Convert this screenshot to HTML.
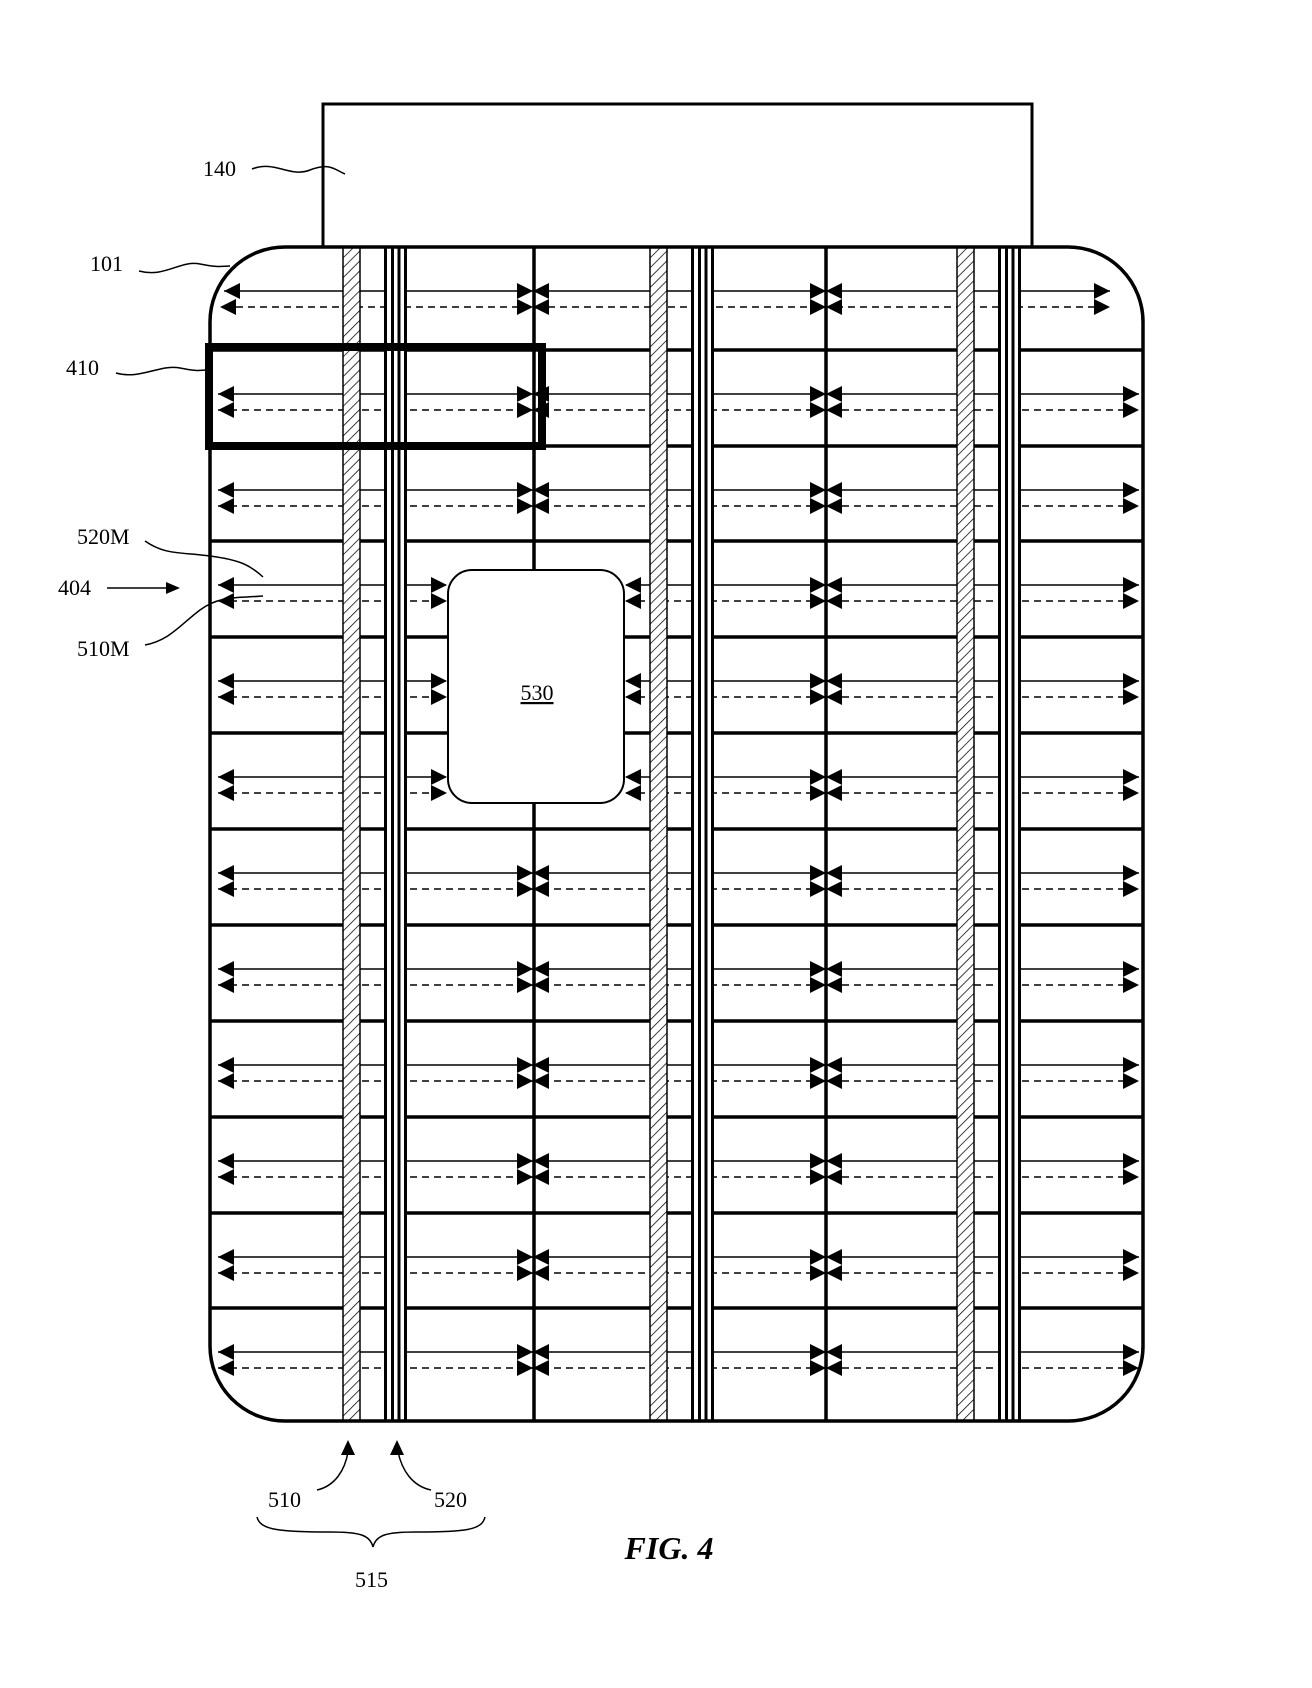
<!DOCTYPE html>
<html><head><meta charset="utf-8"><style>
html,body{margin:0;padding:0;background:#fff;}
svg{display:block;}
text{font-family:"Liberation Serif",serif;fill:#000;}
</style></head><body>
<svg width="1312" height="1688" viewBox="0 0 1312 1688" xmlns="http://www.w3.org/2000/svg">
<defs>
<pattern id="h" patternUnits="userSpaceOnUse" width="7" height="7" patternTransform="rotate(45)">
<rect width="7" height="7" fill="#fff"/><line x1="0" y1="0" x2="0" y2="7" stroke="#000" stroke-width="1.5"/>
</pattern>
<clipPath id="c"><rect x="210" y="247" width="933" height="1174" rx="75" ry="75"/></clipPath>
<g id="hn">
<polygon points="218,0 234,-8 234,8"/>
<polygon points="533,0 517,-8 517,8"/><polygon points="533,0 549,-8 549,8"/>
<polygon points="826,0 810,-8 810,8"/><polygon points="826,0 842,-8 842,8"/>
<polygon points="1139,0 1123,-8 1123,8"/>
</g>
<g id="rn">
<line x1="218" y1="0" x2="1139" y2="0" stroke="#000" stroke-width="1.5"/>
<line x1="218" y1="16" x2="1139" y2="16" stroke="#000" stroke-width="1.5" stroke-dasharray="7,5"/>
<use href="#hn"/><use href="#hn" y="16"/>
</g>
<g id="hb">
<polygon points="218,0 234,-8 234,8"/>
<polygon points="447,0 431,-8 431,8"/>
<polygon points="625,0 641,-8 641,8"/>
<polygon points="826,0 810,-8 810,8"/><polygon points="826,0 842,-8 842,8"/>
<polygon points="1139,0 1123,-8 1123,8"/>
</g>
<g id="rb">
<line x1="218" y1="0" x2="446" y2="0" stroke="#000" stroke-width="1.5"/>
<line x1="626" y1="0" x2="1139" y2="0" stroke="#000" stroke-width="1.5"/>
<line x1="218" y1="16" x2="446" y2="16" stroke="#000" stroke-width="1.5" stroke-dasharray="7,5"/>
<line x1="626" y1="16" x2="1139" y2="16" stroke="#000" stroke-width="1.5" stroke-dasharray="7,5"/>
<use href="#hb"/><use href="#hb" y="16"/>
</g>
<g id="strip">
<rect x="0" y="245" width="17" height="1180" fill="url(#h)" stroke="#000" stroke-width="1.5"/>
<rect x="41" y="245" width="23" height="1180" fill="#fff"/>
<line x1="42.5" y1="245" x2="42.5" y2="1425" stroke="#000" stroke-width="3"/>
<line x1="49.5" y1="245" x2="49.5" y2="1425" stroke="#000" stroke-width="3"/>
<line x1="56" y1="245" x2="56" y2="1425" stroke="#000" stroke-width="3"/>
<line x1="62.5" y1="245" x2="62.5" y2="1425" stroke="#000" stroke-width="3"/>
</g>
</defs>
<rect x="323" y="104" width="709" height="143" fill="#fff" stroke="#000" stroke-width="3"/>
<g clip-path="url(#c)">
<g stroke="#000" stroke-width="3.5">
<line x1="534" y1="247" x2="534" y2="1421"/>
<line x1="826" y1="247" x2="826" y2="1421"/>
<line x1="205" y1="350" x2="1150" y2="350"/>
<line x1="205" y1="446" x2="1150" y2="446"/>
<line x1="205" y1="541" x2="1150" y2="541"/>
<line x1="205" y1="637" x2="1150" y2="637"/>
<line x1="205" y1="733" x2="1150" y2="733"/>
<line x1="205" y1="829" x2="1150" y2="829"/>
<line x1="205" y1="925" x2="1150" y2="925"/>
<line x1="205" y1="1021" x2="1150" y2="1021"/>
<line x1="205" y1="1117" x2="1150" y2="1117"/>
<line x1="205" y1="1213" x2="1150" y2="1213"/>
<line x1="205" y1="1308" x2="1150" y2="1308"/>
</g>
<g>
<line x1="224" y1="291" x2="1110" y2="291" stroke="#000" stroke-width="1.5"/>
<line x1="224" y1="307" x2="1110" y2="307" stroke="#000" stroke-width="1.5" stroke-dasharray="7,5"/>
<polygon points="224,291 240,283 240,299"/><polygon points="220,307 236,299 236,315"/>
<polygon points="533,291 517,283 517,299"/><polygon points="533,291 549,283 549,299"/>
<polygon points="533,307 517,299 517,315"/><polygon points="533,307 549,299 549,315"/>
<polygon points="826,291 810,283 810,299"/><polygon points="826,291 842,283 842,299"/>
<polygon points="826,307 810,299 810,315"/><polygon points="826,307 842,299 842,315"/>
<polygon points="1110,291 1094,283 1094,299"/><polygon points="1110,307 1094,299 1094,315"/>
</g>
<use href="#rn" y="394"/>
<use href="#rn" y="490"/>
<use href="#rb" y="585"/>
<use href="#rb" y="681"/>
<use href="#rb" y="777"/>
<use href="#rn" y="873"/>
<use href="#rn" y="969"/>
<use href="#rn" y="1065"/>
<use href="#rn" y="1161"/>
<use href="#rn" y="1257"/>
<use href="#rn" y="1352"/>
<use href="#strip" x="343"/>
<use href="#strip" x="650"/>
<use href="#strip" x="957"/>
</g>
<rect x="210" y="247" width="933" height="1174" rx="75" ry="75" fill="none" stroke="#000" stroke-width="3.5"/>
<rect x="448" y="570" width="176" height="233" rx="24" ry="24" fill="#fff" stroke="#000" stroke-width="2"/>
<text x="537" y="700" font-size="22" text-anchor="middle" text-decoration="underline">530</text>
<rect x="209" y="347" width="333" height="99" fill="none" stroke="#000" stroke-width="8"/>
<g fill="none" stroke="#000" stroke-width="1.5">
<path d="M252 169 C275 160,290 178,310 170 S335 170,345 174"/>
<path d="M139 271 C165 278,180 260,200 264 S222 266,230 266"/>
<path d="M116 373 C140 380,160 364,180 368 S200 370,206 370"/>
<path d="M145 541 C165 555,180 552,210 556 S250 565,263 577"/>
<path d="M145 645 C170 640,180 625,200 610 S240 598,263 596"/>
<path d="M317 1490 C335 1486,345 1470,348 1452"/>
<path d="M431 1490 C412 1486,402 1470,398 1452"/>
<path d="M257 1517 C260 1530,280 1532,330 1532 C360 1532,370 1535,373 1547 C376 1535,386 1532,416 1532 C466 1532,482 1530,485 1517"/>
<line x1="107" y1="588" x2="168" y2="588"/>
</g>
<g fill="#000">
<polygon points="180,588 166,582 166,594"/>
<polygon points="348,1440 341,1455 355,1455"/>
<polygon points="397,1440 390,1455 404,1455"/>
</g>
<g font-size="22">
<text x="203" y="176">140</text>
<text x="90" y="271">101</text>
<text x="66" y="375">410</text>
<text x="77" y="544">520M</text>
<text x="58" y="595">404</text>
<text x="77" y="656">510M</text>
<text x="268" y="1507">510</text>
<text x="434" y="1507">520</text>
<text x="355" y="1587">515</text>
</g>
<text x="669" y="1559" font-size="32" font-weight="bold" font-style="italic" text-anchor="middle">FIG. 4</text>
</svg>
</body></html>
